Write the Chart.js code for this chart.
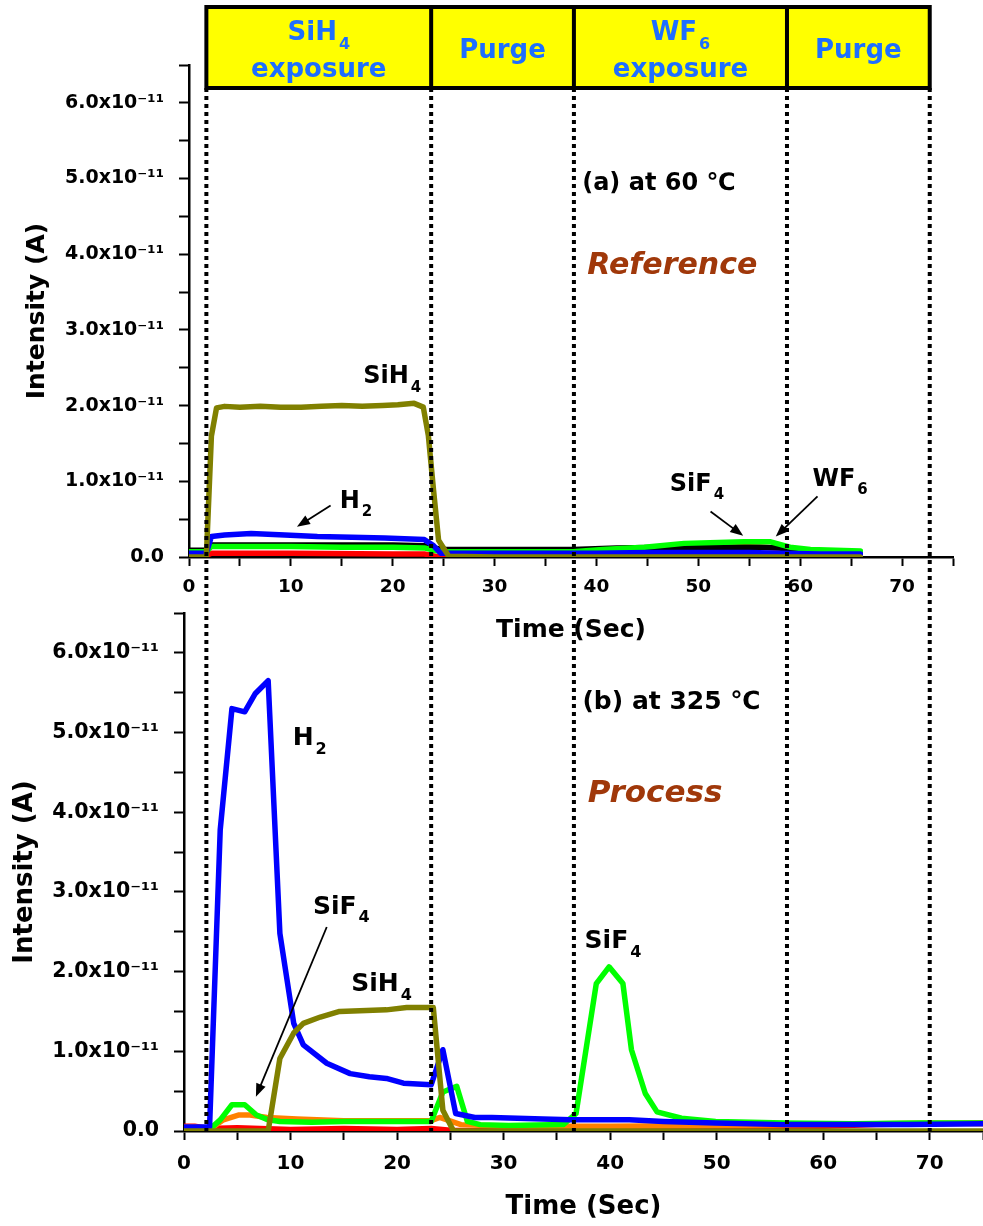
<!DOCTYPE html>
<html>
<head>
<meta charset="utf-8">
<script src="https://cdn.jsdelivr.net/npm/chart.js@4.4.0/dist/chart.umd.min.js"></script>
<style>
  html, body { margin: 0; padding: 0; background: #fff; }
  #wrap { position: relative; width: 983px; height: 1226px; overflow: hidden; }
  canvas { position: absolute; left: 0; }
  #top-chart { top: 0; }
  #bot-chart { top: 590px; }
</style>
</head>
<body>
<div id="wrap">
  <canvas id="top-chart" width="983" height="650"></canvas>
  <canvas id="bot-chart" width="983" height="636"></canvas>
</div>
<script>
"use strict";

// QMS traces for one SiH4 / purge / WF6 / purge cycle. Times in s, intensities in 1e-11 A.

// phase boundaries (seconds on the lower panel's time axis) and the header labels
const PHASE_EDGES = [2.1, 23.2, 36.6, 56.6, 70.0];
const PHASE_MAIN = ["SiH", "Purge", "WF", "Purge"];
const PHASE_SUB = ["4", "", "6", ""];
const PHASE_LINE2 = ["exposure", "", "exposure", ""];

// (a) at 60 C
const A_SIH4_T = [0, 1.7, 2.2, 2.7, 3.5, 5, 7, 9, 11, 13, 15, 17, 19, 20.5, 22.1, 23.0, 23.5, 24.0, 24.5, 25.5, 30, 40, 50, 60, 65.9];
const A_SIH4_V = [0, 0, 1.6, 1.97, 1.99, 1.98, 1.99, 1.98, 1.98, 1.99, 2.0, 1.99, 2.0, 2.01, 2.03, 1.98, 1.6, 0.89, 0.22, 0.01, 0, 0, 0, 0, 0];
const A_H2_T = [0, 1.7, 2.2, 3.5, 6.1, 9.4, 12.6, 16, 19.2, 23.1, 24.0, 24.7, 26, 30, 35, 40, 45, 50, 55, 58, 62, 65.9];
const A_H2_V = [0.05, 0.05, 0.27, 0.29, 0.31, 0.29, 0.27, 0.26, 0.25, 0.23, 0.15, 0.05, 0.05, 0.05, 0.05, 0.05, 0.06, 0.06, 0.06, 0.05, 0.04, 0.04];
const A_SIF4_T = [0, 1.7, 2.2, 5, 10, 15, 20, 23.1, 24.0, 25, 30, 37.7, 40.6, 44.7, 48.6, 54.5, 57.1, 59.0, 61, 65.9];
const A_SIF4_V = [0.07, 0.07, 0.14, 0.14, 0.14, 0.13, 0.13, 0.12, 0.09, 0.07, 0.07, 0.07, 0.1, 0.13, 0.18, 0.2, 0.2, 0.13, 0.1, 0.08];
const A_BG_T = [0, 1.7, 2.2, 10, 20, 23.1, 24, 25, 30, 37.7, 42, 47, 52, 56, 58, 60, 65.9];
const A_BG_V = [0.09, 0.09, 0.16, 0.16, 0.16, 0.15, 0.12, 0.1, 0.1, 0.1, 0.12, 0.13, 0.13, 0.13, 0.12, 0.08, 0.07];
const A_WF6_T = [0, 1.7, 2.2, 10, 20, 23.1, 24.5, 26, 35, 42, 48, 54.5, 58, 59.5, 65.9];
const A_WF6_V = [0.02, 0.02, 0.05, 0.05, 0.04, 0.04, 0.0, 0.02, 0.03, 0.06, 0.1, 0.14, 0.12, 0.07, 0.06];

// (b) at 325 C
const B_SIH4_T = [0, 7.9, 9.0, 10.3, 11.2, 12.8, 14.6, 16.5, 19.0, 20.9, 23.4, 24.3, 25.3, 40, 60, 75];
const B_SIH4_V = [0, 0, 0.91, 1.23, 1.35, 1.43, 1.50, 1.51, 1.52, 1.55, 1.55, 0.26, 0, 0, 0, 0];
const B_H2_T = [0, 1.0, 2.4, 3.4, 4.5, 5.7, 6.7, 7.9, 9.0, 10.3, 11.2, 13.4, 15.6, 17.4, 19.0, 20.6, 23.2, 24.3, 25.5, 27.3, 28.9, 33.7, 36.3, 41.8, 45, 49.9, 56.4, 62.8, 68, 75];
const B_H2_V = [0.05, 0.05, 0.05, 3.78, 5.30, 5.26, 5.49, 5.65, 2.48, 1.35, 1.08, 0.85, 0.72, 0.68, 0.66, 0.60, 0.58, 1.02, 0.22, 0.17, 0.17, 0.15, 0.14, 0.14, 0.12, 0.10, 0.08, 0.08, 0.08, 0.09];
const B_SIF4_T = [0, 1.0, 2.4, 3.4, 4.5, 5.7, 6.8, 7.9, 9.0, 12, 15, 18, 21, 23.2, 24.3, 25.6, 26.6, 27.8, 30.5, 35.6, 36.8, 38.7, 39.9, 41.2, 42.0, 43.3, 44.4, 46.7, 49.9, 56.4, 62.8, 69.2, 75];
const B_SIF4_V = [0, 0, 0.02, 0.14, 0.33, 0.33, 0.2, 0.14, 0.12, 0.11, 0.12, 0.12, 0.12, 0.12, 0.49, 0.56, 0.12, 0.08, 0.07, 0.08, 0.22, 1.85, 2.06, 1.85, 1.02, 0.47, 0.24, 0.16, 0.12, 0.1, 0.09, 0.1, 0.1];
const B_OR_T = [0, 1.0, 2.4, 3.7, 5.1, 6.2, 7.8, 10.6, 15, 20, 23.2, 24.0, 26.0, 30, 40, 50, 60, 70, 75];
const B_OR_V = [0.05, 0.05, 0.02, 0.14, 0.2, 0.2, 0.17, 0.15, 0.13, 0.13, 0.13, 0.17, 0.08, 0.06, 0.06, 0.07, 0.08, 0.1, 0.09];
const B_RED_T = [0, 1.0, 2.4, 5, 10, 15, 20, 23.2, 25, 30, 40, 50, 55, 60, 65, 70, 75];
const B_RED_V = [0.06, 0.06, 0.03, 0.04, 0.02, 0.03, 0.02, 0.03, 0.01, 0.0, 0.01, 0.02, 0.04, 0.06, 0.08, 0.09, 0.1];

const FONT = '"DejaVu Sans", sans-serif';
const COLORS = { sih4: "#808000", h2: "#0000ff", sif4: "#00ff00", bg: "#000000", wf6: "#ff0000", orange: "#ff8000" };

// annotations, placed in each panel's own data units
const TOP_NOTES = [
  { t: 38.6, v: 4.93, main: "(a) at 60 \u2103", size: 24 },
  { t: 39.1, v: 3.84, main: "Reference", size: 30, italic: true, color: "#a0380a" },
  { t: 17.1, v: 2.38, main: "SiH", sub: "4", size: 24 },
  { t: 14.8, v: 0.73, main: "H", sub: "2", size: 24 },
  { t: 47.2, v: 0.96, main: "SiF", sub: "4", size: 24 },
  { t: 61.2, v: 1.02, main: "WF", sub: "6", size: 24 },
];
const TOP_ARROWS = [[13.9, 0.68, 10.6, 0.40], [51.2, 0.60, 54.4, 0.28], [61.7, 0.80, 57.6, 0.27]];
const BOT_NOTES = [
  { t: 37.4, v: 5.38, main: "(b) at 325 \u2103", size: 25 },
  { t: 37.9, v: 4.23, main: "Process", size: 31, italic: true, color: "#a0380a" },
  { t: 10.2, v: 4.92, main: "H", sub: "2", size: 25 },
  { t: 12.1, v: 2.81, main: "SiF", sub: "4", size: 25 },
  { t: 15.7, v: 1.84, main: "SiH", sub: "4", size: 25 },
  { t: 37.6, v: 2.38, main: "SiF", sub: "4", size: 25 },
];
const BOT_ARROWS = [[13.4, 2.56, 6.75, 0.43]];

function pts(ts, vs) {
  return ts.map((t, i) => ({ x: t, y: vs[i] }));
}

function line(label, ts, vs, color) {
  return { label, data: pts(ts, vs), borderColor: color, backgroundColor: color, borderWidth: 5.5,
    pointRadius: 0, tension: 0, borderJoinStyle: "round", borderCapStyle: "round" };
}

function yLabel(v) {
  const r = Math.round(v);
  if (Math.abs(v - r) > 1e-6) return "";
  return r === 0 ? "0.0" : r.toFixed(1) + "x10\u207B\u00B9\u00B9";
}

function xLabel(v) {
  return Math.abs(v % 10) < 1e-6 ? String(Math.round(v)) : "";
}

function drawLabel(ctx, x, y, n, align) {
  const size = n.size;
  const style = n.italic ? "italic bold " : "bold ";
  const big = style + size + "px " + FONT;
  const small = "bold " + Math.round(size * 0.62) + "px " + FONT;
  ctx.save();
  ctx.fillStyle = n.color || "#000";
  ctx.textBaseline = "middle";
  ctx.textAlign = "left";
  ctx.font = big;
  const w1 = ctx.measureText(n.main).width;
  ctx.font = small;
  const w2 = n.sub ? ctx.measureText(n.sub).width + 2 : 0;
  const x0 = align === "center" ? x - (w1 + w2) / 2 : x;
  ctx.font = big;
  ctx.fillText(n.main, x0, y);
  if (n.sub) {
    ctx.font = small;
    ctx.fillText(n.sub, x0 + w1 + 2, y + size * 0.45);
  }
  ctx.restore();
}

function drawArrow(ctx, x1, y1, x2, y2) {
  const a = Math.atan2(y2 - y1, x2 - x1);
  const len = 13, half = 5;
  ctx.save();
  ctx.strokeStyle = "#000";
  ctx.fillStyle = "#000";
  ctx.lineWidth = 1.8;
  ctx.beginPath();
  ctx.moveTo(x1, y1);
  ctx.lineTo(x2 - Math.cos(a) * len * 0.8, y2 - Math.sin(a) * len * 0.8);
  ctx.stroke();
  ctx.beginPath();
  ctx.moveTo(x2, y2);
  ctx.lineTo(x2 - Math.cos(a) * len - Math.sin(a) * half, y2 - Math.sin(a) * len + Math.cos(a) * half);
  ctx.lineTo(x2 - Math.cos(a) * len + Math.sin(a) * half, y2 - Math.sin(a) * len - Math.cos(a) * half);
  ctx.closePath();
  ctx.fill();
  ctx.restore();
}

function drawDashes(ctx, xs, y0, y1, offset) {
  ctx.save();
  ctx.strokeStyle = "#000";
  ctx.lineWidth = 4;
  ctx.setLineDash([4, 4]);
  ctx.lineDashOffset = offset || 0;
  xs.forEach((x) => {
    ctx.beginPath();
    ctx.moveTo(x, y0);
    ctx.lineTo(x, y1);
    ctx.stroke();
  });
  ctx.restore();
}

function notesPlugin(notes, arrows) {
  return {
    id: "notes",
    afterDatasetsDraw(chart) {
      const { ctx, scales } = chart;
      notes.forEach((n) => drawLabel(ctx, scales.x.getPixelForValue(n.t), scales.y.getPixelForValue(n.v), n));
      arrows.forEach((a) => drawArrow(ctx, scales.x.getPixelForValue(a[0]), scales.y.getPixelForValue(a[1]),
        scales.x.getPixelForValue(a[2]), scales.y.getPixelForValue(a[3])));
    },
  };
}

function axes(o) {
  const tickFont = { family: FONT, weight: "bold", size: o.tickSize };
  const xTickFont = { family: FONT, weight: "bold", size: o.xTickSize };
  const titleFont = { family: FONT, weight: "bold", size: o.titleSize };
  return {
    x: {
      type: "linear", min: 0, max: 75,
      border: { display: true, color: "#000", width: 2.5 },
      grid: { drawOnChartArea: false, drawTicks: true, tickLength: 9, tickWidth: 2, color: "#000" },
      ticks: { stepSize: 5, autoSkip: false, maxRotation: 0, color: "#000", font: xTickFont,
        padding: o.xPad, callback: xLabel },
      title: { display: true, text: "Time (Sec)", color: "#000", font: titleFont, padding: { top: 0, bottom: o.xTitlePad } },
      afterFit: (s) => { s.height = o.xHeight; s.paddingLeft = 0; s.paddingRight = 0; },
    },
    y: {
      type: "linear", min: 0, max: 6.5,
      border: { display: true, color: "#000", width: 2.5 },
      grid: { drawOnChartArea: false, drawTicks: true, tickLength: 10, tickWidth: 2, color: "#000" },
      ticks: { stepSize: 0.5, autoSkip: false, color: "#000", font: tickFont, padding: o.yPad, callback: yLabel },
      title: { display: true, text: "Intensity (A)", color: "#000", font: titleFont, padding: { top: o.yTitlePad, bottom: 0 } },
      afterFit: (s) => { s.width = o.yWidth; s.paddingTop = 0; s.paddingBottom = 0; },
    },
  };
}

const botCanvas = document.getElementById("bot-chart");
const topCanvas = document.getElementById("top-chart");

const botChart = new Chart(botCanvas, {
  type: "line",
  data: {
    datasets: [
      line("SiH4", B_SIH4_T, B_SIH4_V, COLORS.sih4),
      line("H2", B_H2_T, B_H2_V, COLORS.h2),
      line("SiF4", B_SIF4_T, B_SIF4_V, COLORS.sif4),
      line("mass (orange)", B_OR_T, B_OR_V, COLORS.orange),
      line("WF6", B_RED_T, B_RED_V, COLORS.wf6),
    ],
  },
  options: {
    responsive: false, animation: false, events: [],
    layout: { padding: { top: 23, right: 0, left: 0, bottom: 0 } },
    plugins: { legend: { display: false }, tooltip: { enabled: false } },
    scales: axes({ tickSize: 20.5, xTickSize: 20, titleSize: 26, xPad: 12, yPad: 15, xHeight: 95,
      xTitlePad: 3, yWidth: 184, yTitlePad: 10 }),
  },
  plugins: [notesPlugin(BOT_NOTES, BOT_ARROWS), {
    id: "phaseLinesBottom",
    afterDraw(chart) {
      const xs = PHASE_EDGES.map((e) => chart.scales.x.getPixelForValue(e));
      drawDashes(chart.ctx, xs, 0, chart.chartArea.bottom, 6);
    },
  }],
});

const topChart = new Chart(topCanvas, {
  type: "line",
  data: {
    datasets: [
      line("SiH4", A_SIH4_T, A_SIH4_V, COLORS.sih4),
      line("H2", A_H2_T, A_H2_V, COLORS.h2),
      line("SiF4", A_SIF4_T, A_SIF4_V, COLORS.sif4),
      line("background", A_BG_T, A_BG_V, COLORS.bg),
      line("WF6", A_WF6_T, A_WF6_V, COLORS.wf6),
    ],
  },
  options: {
    responsive: false, animation: false, events: [],
    layout: { padding: { top: 65, right: 30, left: 0, bottom: 0 } },
    plugins: { legend: { display: false }, tooltip: { enabled: false } },
    scales: axes({ tickSize: 19, xTickSize: 18.5, titleSize: 25, xPad: 10, yPad: 15, xHeight: 93,
      xTitlePad: 5, yWidth: 189, yTitlePad: 22 }),
  },
  plugins: [notesPlugin(TOP_NOTES, TOP_ARROWS), {
    id: "phaseHeader",
    afterDraw(chart) {
      const ctx = chart.ctx;
      // boundaries share screen x with the lower panel
      const xs = PHASE_EDGES.map((e) => botChart.scales.x.getPixelForValue(e));
      const hTop = 7, hBot = 88;
      drawDashes(ctx, xs, hBot, botCanvas.offsetTop - topCanvas.offsetTop, 0);
      ctx.save();
      ctx.fillStyle = "#ffff00";
      ctx.fillRect(xs[0], hTop, xs[xs.length - 1] - xs[0], hBot - hTop);
      ctx.strokeStyle = "#000";
      ctx.lineWidth = 4;
      ctx.strokeRect(xs[0], hTop, xs[xs.length - 1] - xs[0], hBot - hTop);
      ctx.beginPath();
      xs.slice(1, -1).forEach((x) => { ctx.moveTo(x, hTop); ctx.lineTo(x, hBot); });
      ctx.stroke();
      ctx.restore();
      PHASE_MAIN.forEach((m, i) => {
        const cx = (xs[i] + xs[i + 1]) / 2;
        const note = { main: m, sub: PHASE_SUB[i], size: 26, color: "#1e6eff" };
        if (PHASE_LINE2[i]) {
          drawLabel(ctx, cx, 33, note, "center");
          drawLabel(ctx, cx, 70, { main: PHASE_LINE2[i], size: 26, color: "#1e6eff" }, "center");
        } else {
          drawLabel(ctx, cx, 51, note, "center");
        }
      });
    },
  }],
});
</script>
</body>
</html>
